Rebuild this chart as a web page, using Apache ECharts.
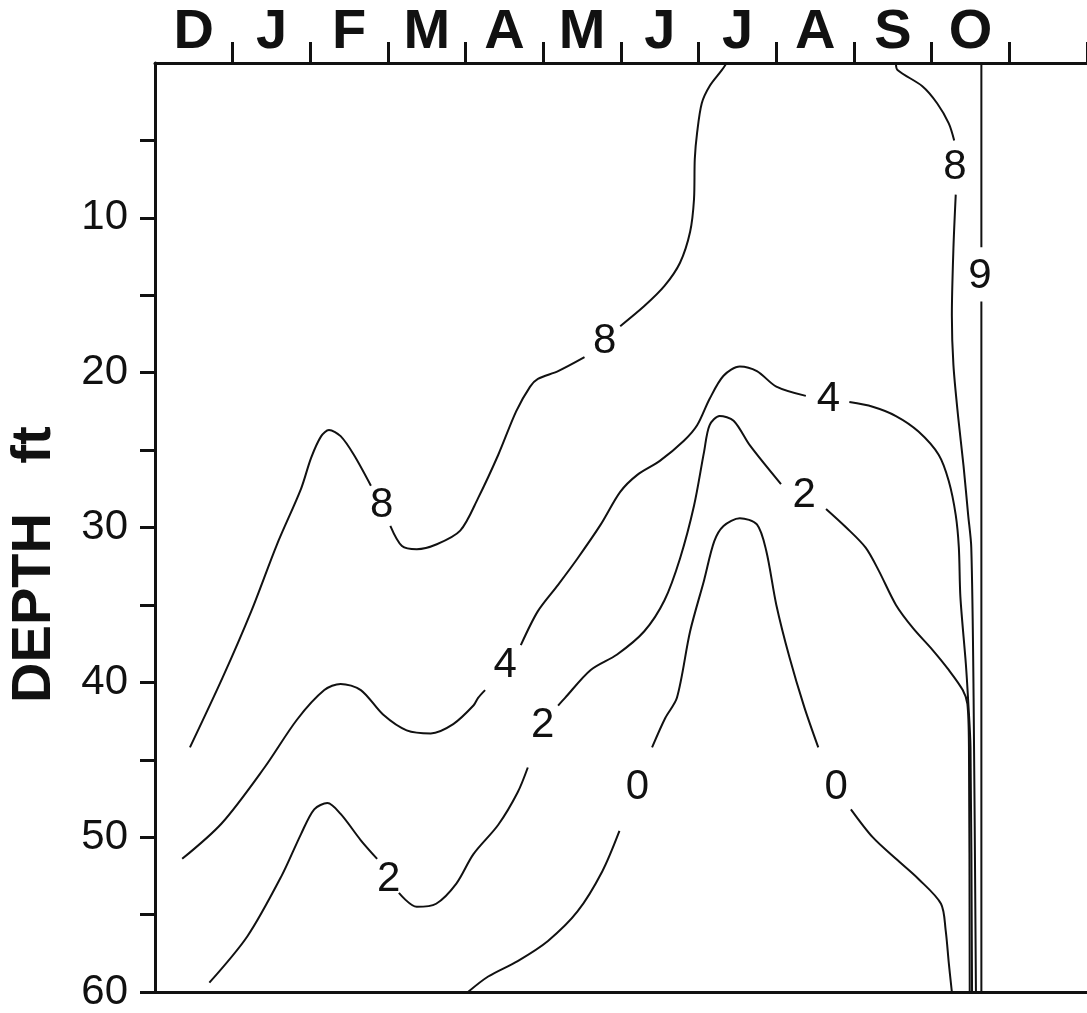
<!DOCTYPE html>
<html>
<head>
<meta charset="utf-8">
<title>Depth contours</title>
<script src="https://cdn.jsdelivr.net/npm/echarts@6/dist/echarts.min.js"></script>
<style>
  html, body { margin: 0; padding: 0; background: #fff; }
  #chart { width: 1087px; height: 1013px; }
</style>
</head>
<body>
<div id="chart"></div>
<script>
// month letters along the top (each sits between two ticks), last slot is unlabelled
const months = ['D', 'J', 'F', 'M', 'A', 'M', 'J', 'J', 'A', 'S', 'O', ''];
const depthTicks = [10, 20, 30, 40, 50, 60];

// contour lines: [month, depth ft], null = gap left for a label
const contour8a = [
    [0.45, 44.2], [0.87, 39.7], [1.24, 35.4], [1.57, 31.1], [1.88, 27.5], [2.01, 25.5],
    [2.14, 24.1], [2.24, 23.7], [2.39, 24.1], [2.56, 25.3], [2.78, 27.3], null,
    [3.03, 29.9], [3.18, 31.2], [3.37, 31.4], [3.62, 31.1], [3.93, 30.2], [4.16, 28.1],
    [4.42, 25.3], [4.65, 22.5], [4.83, 20.9], [4.93, 20.4], [5.19, 19.9], [5.53, 19.0], null,
    [5.99, 17.0], [6.30, 15.7], [6.56, 14.4], [6.76, 12.9], [6.89, 10.9], [6.94, 8.8],
    [6.95, 6.2], [6.98, 4.5], [7.04, 2.6], [7.14, 1.5], [7.30, 0.45], [7.36, 0]
];
const contour8b = [
    [9.54, 0], [9.56, 0.45], [9.88, 1.5], [10.07, 2.6], [10.22, 3.9], [10.29, 5.0], null,
    [10.31, 8.5], [10.28, 12.0], [10.26, 16.3], [10.28, 19.5], [10.34, 22.8], [10.41, 26.0],
    [10.47, 29.2], [10.51, 31.3], [10.54, 41.0], [10.57, 60]
];
const contour4 = [
    [0.35, 51.4], [0.86, 49.1], [1.41, 45.5], [1.83, 42.4], [2.18, 40.5], [2.39, 40.1],
    [2.65, 40.5], [2.94, 42.1], [3.24, 43.1], [3.55, 43.3], [3.84, 42.7], [4.10, 41.5],
    [4.16, 41.0], [4.25, 40.5], null,
    [4.71, 37.6], [4.93, 35.4], [5.19, 33.7], [5.44, 32.0], [5.74, 29.8], [5.99, 27.7],
    [6.21, 26.6], [6.50, 25.7], [6.81, 24.4], [6.98, 23.4], [7.14, 21.7], [7.32, 20.2],
    [7.53, 19.6], [7.75, 19.9], [8.00, 20.9], [8.38, 21.5], null,
    [8.94, 21.9], [9.24, 22.2], [9.54, 22.8], [9.83, 23.8], [10.09, 25.3], [10.22, 27.0],
    [10.31, 29.2], [10.35, 31.3], [10.37, 34.5], [10.44, 38.8], [10.47, 41.2], [10.50, 44.2],
    [10.52, 60]
];
const contour2 = [
    [0.70, 59.4], [1.19, 56.4], [1.63, 52.5], [1.88, 49.8], [2.05, 48.2], [2.22, 47.8],
    [2.39, 48.5], [2.65, 50.2], [2.86, 51.4], null,
    [3.14, 53.6], [3.37, 54.5], [3.62, 54.3], [3.88, 53.0], [4.10, 51.1], [4.42, 49.2],
    [4.67, 47.1], [4.80, 45.5], null,
    [5.19, 41.5], [5.28, 41.0], [5.61, 39.2], [5.95, 38.2], [6.30, 36.7], [6.56, 34.7],
    [6.76, 32.0], [6.94, 28.6], [7.07, 25.1], [7.14, 23.4], [7.27, 22.8], [7.45, 23.1],
    [7.66, 24.7], [8.06, 27.2], null,
    [8.64, 28.8], [8.90, 30.0], [9.15, 31.3], [9.32, 32.8], [9.54, 35.0], [9.76, 36.5],
    [10.01, 37.9], [10.22, 39.2], [10.40, 40.5], [10.46, 41.4], [10.48, 44.2], [10.49, 60]
];
const contour0 = [
    [4.03, 60], [4.29, 59.0], [4.67, 58.0], [5.06, 56.7], [5.44, 54.8], [5.76, 52.2],
    [5.98, 49.6], null,
    [6.40, 44.2], [6.57, 42.3], [6.72, 41.0], [6.89, 36.7], [7.07, 33.4], [7.20, 30.9],
    [7.32, 29.9], [7.53, 29.4], [7.75, 29.8], [7.87, 31.5], [8.00, 35.0], [8.17, 38.4],
    [8.36, 41.6], [8.54, 44.2], null,
    [8.96, 48.2], [9.24, 50.0], [9.54, 51.4], [9.83, 52.7], [10.12, 54.3], [10.18, 56.0],
    [10.22, 58.1], [10.26, 60]
];
const contour9 = [[10.64, 0], [10.64, 11.9], null, [10.64, 15.4], [10.64, 60]];

// contour labels: [month, depth, text]
const contourLabels = [
    [2.92, 28.6, '8'], [5.79, 18.0, '8'], [10.30, 6.75, '8'], [10.62, 13.8, '9'],
    [4.51, 38.9, '4'], [8.67, 21.7, '4'],
    [3.01, 52.7, '2'], [4.99, 42.8, '2'], [8.36, 27.9, '2'],
    [6.21, 46.8, '0'], [8.77, 46.8, '0']
];

const chart = echarts.init(document.getElementById('chart'));

const toData = arr => arr.map(p => (p === null ? ['-', '-'] : p));
const contourSeries = [contour8a, contour8b, contour4, contour2, contour0, contour9].map(c => ({
    type: 'line',
    data: toData(c),
    xAxisIndex: 0,
    yAxisIndex: 0,
    showSymbol: false,
    smooth: 0.3,
    connectNulls: false,
    silent: true,
    lineStyle: { color: '#111', width: 2 }
}));

const option = {
    animation: false,
    backgroundColor: '#fff',
    grid: { left: 155, top: 63, width: 937, height: 934 },
    xAxis: [{
        type: 'value',
        position: 'bottom',
        min: 0,
        max: 12,
        axisLine: { show: true, onZero: false, lineStyle: { color: '#111', width: 3 } },
        axisTick: { show: false },
        axisLabel: { show: false },
        splitLine: { show: false }
    }, {
        type: 'category',
        position: 'top',
        data: months,
        boundaryGap: true,
        axisLine: { show: true, onZero: false, lineStyle: { color: '#111', width: 3 } },
        axisTick: {
            show: true,
            length: 21,
            alignWithLabel: false,
            interval: i => i !== 0,
            lineStyle: { color: '#111', width: 3 }
        },
        axisLabel: {
            interval: 0,
            margin: 2,
            color: '#111',
            fontFamily: 'Liberation Sans',
            fontWeight: 'bold',
            fontSize: 56
        },
        splitLine: { show: false }
    }],
    yAxis: {
        type: 'value',
        inverse: true,
        min: 0,
        max: 60,
        interval: 10,
        axisLine: { show: true, onZero: false, lineStyle: { color: '#111', width: 3 } },
        axisTick: { show: true, length: 15, customValues: depthTicks, lineStyle: { color: '#111', width: 3 } },
        minorTick: { show: true, splitNumber: 2, length: 15, lineStyle: { color: '#111', width: 3 } },
        axisLabel: {
            margin: 27,
            color: '#111',
            fontFamily: 'Liberation Sans',
            fontSize: 42,
            formatter: v => (v === 0 ? '' : String(v))
        },
        splitLine: { show: false }
    },
    graphic: [{
        type: 'text',
        x: 35,
        y: 608,
        rotation: Math.PI / 2,
        style: {
            text: 'DEPTH',
            fill: '#111',
            font: 'bold 56px "Liberation Sans"',
            align: 'center',
            verticalAlign: 'middle'
        }
    }, {
        type: 'text',
        x: 35,
        y: 445,
        rotation: Math.PI / 2,
        style: {
            text: 'ft',
            fill: '#111',
            font: 'bold 56px "Liberation Sans"',
            align: 'center',
            verticalAlign: 'middle'
        }
    }],
    series: contourSeries.concat([{
        type: 'scatter',
        data: contourLabels,
        xAxisIndex: 0,
        yAxisIndex: 0,
        symbolSize: 1,
        silent: true,
        itemStyle: { color: 'rgba(0,0,0,0)', opacity: 1 },
        label: {
            show: true,
            position: 'inside',
            formatter: p => p.value[2],
            color: '#111',
            opacity: 1,
            fontFamily: 'Liberation Sans',
            fontSize: 42
        }
    }])
};

chart.setOption(option);
</script>
</body>
</html>
